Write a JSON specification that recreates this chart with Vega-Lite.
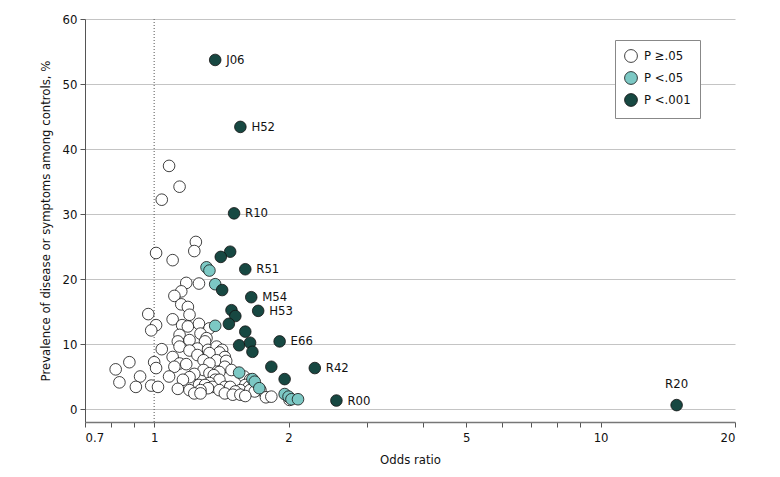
{
  "$schema": "https://vega.github.io/schema/vega-lite/v6.json",
  "width": 650,
  "height": 403,
  "autosize": {"type": "none"},
  "padding": {"left": 85, "top": 19, "right": 45, "bottom": 55},
  "background": "white",
  "config": {
    "font": "Liberation Sans Narrow, DejaVu Sans Condensed, sans-serif",
    "view": {"stroke": null}
  },
  "datasets": {
    "pts": [
      {"or": 1.37, "prev": 53.7, "p": "P <.001", "label": "J06"},
      {"or": 1.56, "prev": 43.4, "p": "P <.001", "label": "H52"},
      {"or": 1.51, "prev": 30.1, "p": "P <.001", "label": "R10"},
      {"or": 1.48, "prev": 24.2, "p": "P <.001"},
      {"or": 1.41, "prev": 23.4, "p": "P <.001"},
      {"or": 1.60, "prev": 21.5, "p": "P <.001", "label": "R51"},
      {"or": 1.42, "prev": 18.3, "p": "P <.001"},
      {"or": 1.65, "prev": 17.2, "p": "P <.001", "label": "M54"},
      {"or": 1.71, "prev": 15.1, "p": "P <.001", "label": "H53"},
      {"or": 1.49, "prev": 15.2, "p": "P <.001"},
      {"or": 1.52, "prev": 14.3, "p": "P <.001"},
      {"or": 1.47, "prev": 13.1, "p": "P <.001"},
      {"or": 1.60, "prev": 11.9, "p": "P <.001"},
      {"or": 1.55, "prev": 9.8, "p": "P <.001"},
      {"or": 1.64, "prev": 10.2, "p": "P <.001"},
      {"or": 1.66, "prev": 8.8, "p": "P <.001"},
      {"or": 1.91, "prev": 10.4, "p": "P <.001", "label": "E66"},
      {"or": 1.83, "prev": 6.5, "p": "P <.001"},
      {"or": 1.96, "prev": 4.6, "p": "P <.001"},
      {"or": 2.29, "prev": 6.3, "p": "P <.001", "label": "R42"},
      {"or": 2.56, "prev": 1.3, "p": "P <.001", "label": "R00"},
      {"or": 14.8, "prev": 0.6, "p": "P <.001", "label": "R20"},
      {"or": 1.31, "prev": 21.8, "p": "P <.05"},
      {"or": 1.33, "prev": 21.3, "p": "P <.05"},
      {"or": 1.37, "prev": 19.2, "p": "P <.05"},
      {"or": 1.37, "prev": 12.8, "p": "P <.05"},
      {"or": 1.55, "prev": 5.6, "p": "P <.05"},
      {"or": 1.66, "prev": 4.6, "p": "P <.05"},
      {"or": 1.68, "prev": 4.2, "p": "P <.05"},
      {"or": 1.72, "prev": 3.2, "p": "P <.05"},
      {"or": 1.96, "prev": 2.3, "p": "P <.05"},
      {"or": 2.00, "prev": 1.9, "p": "P <.05"},
      {"or": 2.03, "prev": 1.5, "p": "P <.05"},
      {"or": 2.10, "prev": 1.5, "p": "P <.05"},
      {"or": 1.08, "prev": 37.4, "p": "P ≥.05"},
      {"or": 1.14, "prev": 34.2, "p": "P ≥.05"},
      {"or": 1.04, "prev": 32.2, "p": "P ≥.05"},
      {"or": 1.24, "prev": 25.7, "p": "P ≥.05"},
      {"or": 1.23, "prev": 24.3, "p": "P ≥.05"},
      {"or": 1.01, "prev": 24.0, "p": "P ≥.05"},
      {"or": 1.10, "prev": 22.9, "p": "P ≥.05"},
      {"or": 1.18, "prev": 19.4, "p": "P ≥.05"},
      {"or": 1.26, "prev": 19.3, "p": "P ≥.05"},
      {"or": 1.15, "prev": 18.1, "p": "P ≥.05"},
      {"or": 1.11, "prev": 17.4, "p": "P ≥.05"},
      {"or": 1.15, "prev": 16.1, "p": "P ≥.05"},
      {"or": 1.19, "prev": 15.7, "p": "P ≥.05"},
      {"or": 1.20, "prev": 14.5, "p": "P ≥.05"},
      {"or": 0.97, "prev": 14.6, "p": "P ≥.05"},
      {"or": 1.10, "prev": 13.8, "p": "P ≥.05"},
      {"or": 1.155, "prev": 12.9, "p": "P ≥.05"},
      {"or": 1.19, "prev": 12.7, "p": "P ≥.05"},
      {"or": 1.26, "prev": 13.1, "p": "P ≥.05"},
      {"or": 1.33, "prev": 12.4, "p": "P ≥.05"},
      {"or": 1.01, "prev": 12.9, "p": "P ≥.05"},
      {"or": 0.985, "prev": 12.1, "p": "P ≥.05"},
      {"or": 1.14, "prev": 11.4, "p": "P ≥.05"},
      {"or": 1.27, "prev": 11.6, "p": "P ≥.05"},
      {"or": 1.31, "prev": 10.9, "p": "P ≥.05"},
      {"or": 1.13, "prev": 10.4, "p": "P ≥.05"},
      {"or": 1.20, "prev": 10.6, "p": "P ≥.05"},
      {"or": 1.30, "prev": 10.4, "p": "P ≥.05"},
      {"or": 1.25, "prev": 9.3, "p": "P ≥.05"},
      {"or": 1.32, "prev": 9.1, "p": "P ≥.05"},
      {"or": 1.04, "prev": 9.2, "p": "P ≥.05"},
      {"or": 1.14, "prev": 9.6, "p": "P ≥.05"},
      {"or": 1.20, "prev": 9.0, "p": "P ≥.05"},
      {"or": 1.38, "prev": 9.6, "p": "P ≥.05"},
      {"or": 1.42, "prev": 9.1, "p": "P ≥.05"},
      {"or": 1.40, "prev": 8.7, "p": "P ≥.05"},
      {"or": 1.10, "prev": 8.0, "p": "P ≥.05"},
      {"or": 1.25, "prev": 8.3, "p": "P ≥.05"},
      {"or": 1.33, "prev": 8.6, "p": "P ≥.05"},
      {"or": 1.44, "prev": 8.0, "p": "P ≥.05"},
      {"or": 1.29, "prev": 7.5, "p": "P ≥.05"},
      {"or": 1.38, "prev": 7.5, "p": "P ≥.05"},
      {"or": 1.45, "prev": 7.4, "p": "P ≥.05"},
      {"or": 1.00, "prev": 7.2, "p": "P ≥.05"},
      {"or": 0.88, "prev": 7.2, "p": "P ≥.05"},
      {"or": 1.14, "prev": 7.0, "p": "P ≥.05"},
      {"or": 1.18, "prev": 6.9, "p": "P ≥.05"},
      {"or": 1.33, "prev": 7.0, "p": "P ≥.05"},
      {"or": 1.44, "prev": 6.5, "p": "P ≥.05"},
      {"or": 1.11, "prev": 6.5, "p": "P ≥.05"},
      {"or": 0.82, "prev": 6.1, "p": "P ≥.05"},
      {"or": 1.01, "prev": 6.3, "p": "P ≥.05"},
      {"or": 1.29, "prev": 6.0, "p": "P ≥.05"},
      {"or": 1.49, "prev": 6.0, "p": "P ≥.05"},
      {"or": 1.40, "prev": 5.7, "p": "P ≥.05"},
      {"or": 1.33, "prev": 5.5, "p": "P ≥.05"},
      {"or": 1.23, "prev": 5.4, "p": "P ≥.05"},
      {"or": 1.36, "prev": 5.2, "p": "P ≥.05"},
      {"or": 0.93, "prev": 5.0, "p": "P ≥.05"},
      {"or": 1.08, "prev": 5.0, "p": "P ≥.05"},
      {"or": 1.20, "prev": 4.9, "p": "P ≥.05"},
      {"or": 1.59, "prev": 5.0, "p": "P ≥.05"},
      {"or": 1.16, "prev": 4.5, "p": "P ≥.05"},
      {"or": 1.37, "prev": 4.5, "p": "P ≥.05"},
      {"or": 1.40, "prev": 4.5, "p": "P ≥.05"},
      {"or": 1.64, "prev": 4.5, "p": "P ≥.05"},
      {"or": 0.836, "prev": 4.1, "p": "P ≥.05"},
      {"or": 1.33, "prev": 4.0, "p": "P ≥.05"},
      {"or": 0.985, "prev": 3.6, "p": "P ≥.05"},
      {"or": 1.26, "prev": 3.7, "p": "P ≥.05"},
      {"or": 1.30, "prev": 3.7, "p": "P ≥.05"},
      {"or": 1.60, "prev": 3.7, "p": "P ≥.05"},
      {"or": 0.91, "prev": 3.4, "p": "P ≥.05"},
      {"or": 1.02, "prev": 3.4, "p": "P ≥.05"},
      {"or": 1.35, "prev": 3.4, "p": "P ≥.05"},
      {"or": 1.44, "prev": 3.4, "p": "P ≥.05"},
      {"or": 1.48, "prev": 3.4, "p": "P ≥.05"},
      {"or": 1.63, "prev": 3.4, "p": "P ≥.05"},
      {"or": 1.13, "prev": 3.1, "p": "P ≥.05"},
      {"or": 1.32, "prev": 3.2, "p": "P ≥.05"},
      {"or": 1.20, "prev": 2.9, "p": "P ≥.05"},
      {"or": 1.27, "prev": 2.9, "p": "P ≥.05"},
      {"or": 1.40, "prev": 2.9, "p": "P ≥.05"},
      {"or": 1.56, "prev": 2.9, "p": "P ≥.05"},
      {"or": 1.64, "prev": 2.9, "p": "P ≥.05"},
      {"or": 1.73, "prev": 2.9, "p": "P ≥.05"},
      {"or": 1.52, "prev": 2.7, "p": "P ≥.05"},
      {"or": 1.68, "prev": 2.7, "p": "P ≥.05"},
      {"or": 1.23, "prev": 2.4, "p": "P ≥.05"},
      {"or": 1.27, "prev": 2.4, "p": "P ≥.05"},
      {"or": 1.44, "prev": 2.4, "p": "P ≥.05"},
      {"or": 1.50, "prev": 2.2, "p": "P ≥.05"},
      {"or": 1.56, "prev": 2.2, "p": "P ≥.05"},
      {"or": 1.60, "prev": 2.0, "p": "P ≥.05"},
      {"or": 1.78, "prev": 1.8, "p": "P ≥.05"},
      {"or": 1.83, "prev": 1.9, "p": "P ≥.05"},
      {"or": 2.01, "prev": 1.4, "p": "P ≥.05"}
    ]
  },
  "data": {"name": "pts"},
  "encoding": {
    "x": {
      "field": "or",
      "type": "quantitative",
      "scale": {"type": "log", "domain": [0.7, 20], "nice": false},
      "axis": {
        "title": "Odds ratio",
        "values": [0.7, 0.8, 0.9, 1, 2, 3, 4, 5, 6, 7, 8, 9, 10, 20],
        "labelExpr": "indexof([0.7,1,2,5,10,20], datum.value) >= 0 ? datum.label : ''",
        "format": "~g",
        "grid": false,
        "domainColor": "#777777",
        "domainWidth": 1.5,
        "tickColor": "#555555",
        "tickSize": 5,
        "labelFontSize": 13,
        "labelColor": "#111111",
        "labelPadding": 4,
        "titleFontSize": 13,
        "titleFontWeight": "normal",
        "titleColor": "#111111",
        "titlePadding": 9
      }
    },
    "y": {
      "field": "prev",
      "type": "quantitative",
      "scale": {"domain": [-2, 60], "nice": false, "zero": false},
      "axis": {
        "title": "Prevalence of disease or symptoms among controls, %",
        "values": [0, 10, 20, 30, 40, 50, 60],
        "grid": true,
        "gridColor": "#c4c4c4",
        "gridWidth": 1.2,
        "domainColor": "#555555",
        "tickColor": "#555555",
        "tickSize": 5,
        "labelFontSize": 13,
        "labelColor": "#111111",
        "labelPadding": 3,
        "titleFontSize": 13,
        "titleFontWeight": "normal",
        "titleColor": "#111111",
        "titlePadding": 10
      }
    }
  },
  "layer": [
    {
      "data": {"values": [{"ref": 1}]},
      "mark": {"type": "rule", "strokeDash": [1, 2], "color": "#555555", "strokeWidth": 1},
      "encoding": {"x": {"field": "ref", "type": "quantitative"}, "y": null}
    },
    {
      "mark": {"type": "circle", "size": 135, "opacity": 1, "stroke": "#111111", "strokeWidth": 0.8},
      "encoding": {
        "color": {
          "field": "p",
          "type": "nominal",
          "scale": {"domain": ["P ≥.05", "P <.05", "P <.001"], "range": ["#ffffff", "#7cc8c4", "#174842"]},
          "legend": {
            "title": null,
            "orient": "none",
            "legendX": 530,
            "legendY": 21,
            "padding": 9,
            "strokeColor": "#888888",
            "fillColor": "white",
            "symbolType": "circle",
            "symbolSize": 165,
            "symbolStrokeColor": "#111111",
            "symbolStrokeWidth": 0.8,
            "symbolOpacity": 1,
            "labelFontSize": 13,
            "labelColor": "#111111",
            "rowPadding": 4,
            "labelOffset": 6
          }
        },
        "order": {"field": "p", "sort": "descending"}
      }
    },
    {
      "transform": [{"filter": "datum.label && datum.label != 'R20'"}],
      "mark": {"type": "text", "align": "left", "dx": 11, "fontSize": 13, "color": "#111111"},
      "encoding": {"text": {"field": "label"}}
    },
    {
      "transform": [{"filter": "datum.label == 'R20'"}],
      "mark": {"type": "text", "align": "center", "dy": -21, "fontSize": 13, "color": "#111111"},
      "encoding": {"text": {"field": "label"}}
    }
  ]
}
